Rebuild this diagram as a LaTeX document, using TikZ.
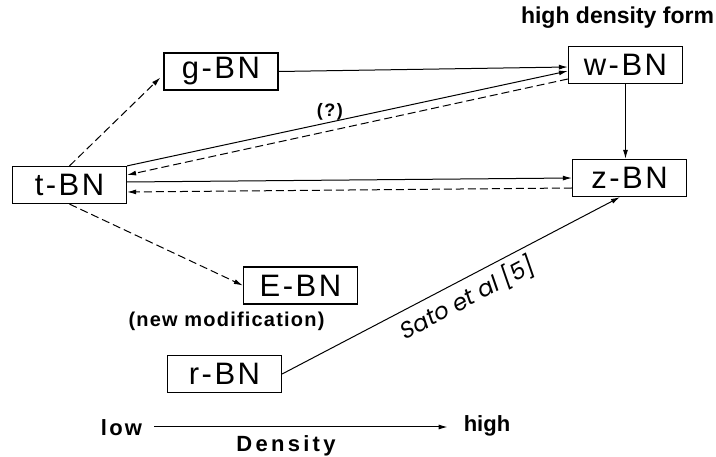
\documentclass[tikz,border=0pt]{standalone}
\usepackage{fontspec}
\setmainfont{Liberation Sans}
\newfontfamily\satofont[FakeSlant=0.15]{Poppins}
\usetikzlibrary{arrows.meta,calc}
\begin{document}
\begin{tikzpicture}[x=1pt,y=-1pt,
  bn/.style={draw,line width=1.2pt,minimum width=114pt,minimum height=37pt,inner sep=0pt,
    font=\fontsize{31}{32}\selectfont\addfontfeature{LetterSpace=8}},
  lbl/.style={inner sep=0pt,font=\fontsize{22}{24}\selectfont\bfseries\addfontfeature{LetterSpace=10}},
  arr/.style={line width=1pt,-{Latex[length=9pt,width=5pt]}},
  dsh/.style={arr,dash pattern=on 8pt off 4pt}]
\useasboundingbox (0,0) rectangle (716,457);
% boxes
\node[bn] (g) at (221,71.5) {g-BN};
\node[bn] (t) at (69.5,185) {t-BN};
\node[bn] (w) at (625.5,65) {w-BN};
\node[bn] (z) at (629.5,178) {z-BN};
\node[bn] (E) at (300.5,285.5) {E-BN};
\node[bn] (r) at (224.5,374) {r-BN};
% labels
\node[lbl,font=\fontsize{23}{25}\selectfont\bfseries] (hdf) at (617.5,18) {high density form};
\node[lbl,font=\fontsize{20}{22}\selectfont\bfseries\addfontfeature{LetterSpace=6}] (nm) at (226.5,321) {(new modification)};
\node[lbl] (low) at (121.5,428) {low};
\node[lbl,font=\fontsize{22}{24}\selectfont\bfseries] (high) at (487,426) {high};
\node[lbl,font=\fontsize{22}{24}\selectfont\bfseries\addfontfeature{LetterSpace=15}] (dens) at (286,446) {Density};
% connectors
\draw[dsh] (t.north) -- ([xshift=-3pt,yshift=-6pt]g.west);
\draw[arr] (g.east) -- ([yshift=-2pt]w.west);
\draw[arr] (t.north east) -- node[pos=0.46,above=2pt,inner sep=0pt,
   font=\fontsize{18}{20}\selectfont\bfseries\addfontfeature{LetterSpace=8}] (q) {(?)} ([yshift=-6pt]w.west);
\draw[dsh] ([yshift=-14pt]w.west) -- ([yshift=10pt]t.east);
\draw[arr] ([yshift=3pt]t.east) -- (z.west);
\draw[dsh] ([yshift=-10pt]z.west) -- ([yshift=-7pt]t.east);
\draw[arr] (w.south) -- (w.south |- z.north);
\draw[dsh] (t.south) -- (E.west);
\draw[arr] (r.east) -- node[pos=0.52,below=5pt,sloped,inner sep=0pt,font=\fontsize{23}{25}\satofont] (sato)
   {Sato et al [5]} ([xshift=-9.5pt]z.south);
\draw[arr] ([xshift=12pt,yshift=1pt]low.east) -- ([xshift=-16pt,yshift=1pt]low.east -| high.west);
\end{tikzpicture}
\end{document}
